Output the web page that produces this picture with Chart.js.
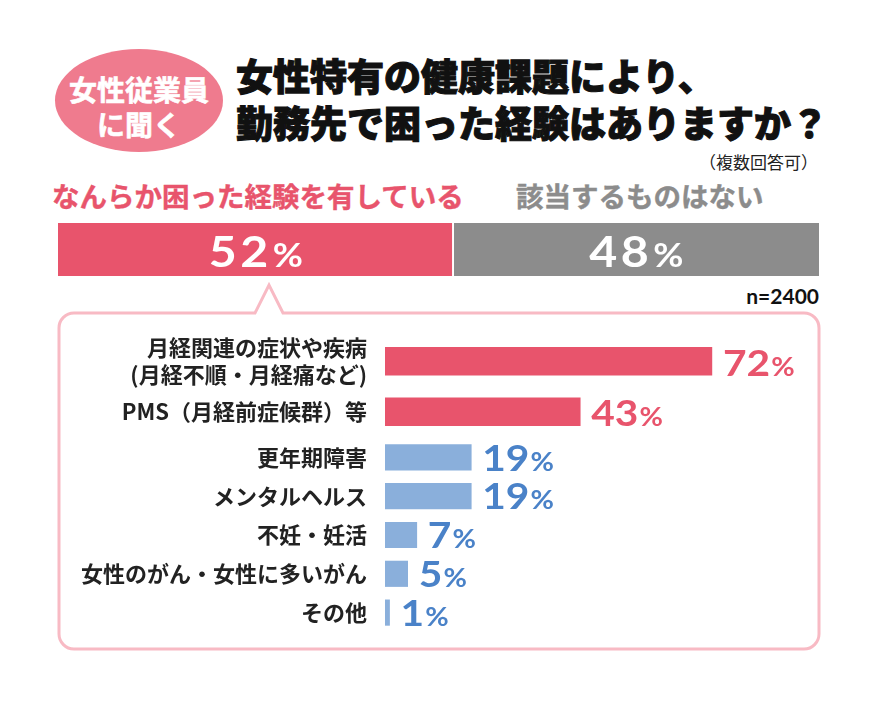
<!DOCTYPE html>
<html>
<head>
<meta charset="utf-8">
<script src="https://cdn.jsdelivr.net/npm/chart.js@4.4.1/dist/chart.umd.min.js"></script>
<style>
html,body{margin:0;padding:0;background:#fff;}
#wrap{position:relative;width:878px;height:702px;overflow:hidden;font-family:'Noto Sans CJK JP','Noto Sans CJK SC',sans-serif;}
.abs{position:absolute;white-space:nowrap;line-height:1;}
#badge{position:absolute;left:55px;top:49px;width:168px;height:103px;border-radius:50%;background:#EF7B8E;}
.bt{left:55px;width:168px;text-align:center;color:#fff;font-weight:700;font-size:28px;-webkit-text-stroke:0.6px #fff;}
.title{left:236px;font-size:37px;font-weight:900;color:#111;-webkit-text-stroke:1.1px #111;}
#note{right:60px;top:153px;font-size:17px;font-weight:400;color:#222;}
.head{font-size:27.5px;font-weight:700;top:182px;}
#headA{left:52px;color:#E8546C;-webkit-text-stroke:0.4px #E8546C;}
#headB{left:516px;color:#8C8C8C;-webkit-text-stroke:0.4px #8C8C8C;}
#nsize{right:59px;top:284.5px;font-family:Lato,'Noto Sans',sans-serif;font-weight:700;font-size:21px;color:#111;}
canvas{position:absolute;}
#box{position:absolute;left:0;top:0;}
</style>
</head>
<body>
<div id="wrap">
  <div id="badge"></div>
  <div class="abs bt" style="top:75px;">女性従業員</div>
  <div class="abs bt" style="top:109.5px;">に聞く</div>
  <div class="abs title" style="top:57px;">女性特有の健康課題により、</div>
  <div class="abs title" style="top:103.5px;">勤務先で困った経験はありますか？</div>
  <div class="abs" id="note">（複数回答可）</div>
  <div class="abs head" id="headA"></div>
  <div class="abs head" id="headB"></div>
  <div class="abs" id="nsize"></div>
  <svg id="box" width="878" height="702">
    <path d="M74 313 L255 313 L269 285 L283 313 L804 313 A15 15 0 0 1 819 328 L819 634 A15 15 0 0 1 804 649 L74 649 A15 15 0 0 1 59 634 L59 328 A15 15 0 0 1 74 313 Z" fill="#fff" stroke="#F8BAC4" stroke-width="3" stroke-linejoin="miter"/>
  </svg>
  <canvas id="overall" width="761" height="53" style="left:58px;top:223px;"></canvas>
  <canvas id="chartA" width="779" height="101" style="left:60px;top:336px;"></canvas>
  <canvas id="chartB" width="779" height="194" style="left:60px;top:438px;"></canvas>
</div>
<script>
// ---- data ----
const overallLabels = ['なんらか困った経験を有している', '該当するものはない'];
const overallValues = [52, 48];
const sampleSize = 'n=2400';
const categories = [
  ['月経関連の症状や疾病', '(月経不順・月経痛など)'],
  'PMS（月経前症候群）等',
  '更年期障害',
  'メンタルヘルス',
  '不妊・妊活',
  '女性のがん・女性に多いがん',
  'その他'
];
const values = [72, 43, 19, 19, 7, 5, 1];
const splitAt = 2; // first group (pink) vs second group (blue)

// ---- style ----
const PINK = '#E8546C', GRAY = '#8C8C8C', BLUE_BAR = '#8AAFDB', BLUE_TXT = '#4A82C8';
const CJK = "'Noto Sans CJK JP','Noto Sans CJK SC',sans-serif";
const NUM = "Lato,'Noto Sans',sans-serif";

document.getElementById('headA').textContent = overallLabels[0];
document.getElementById('headB').textContent = overallLabels[1];
document.getElementById('nsize').textContent = sampleSize;

function drawPct(ctx, text, x, baseline, numSize, pctSize, sx, align, color, spacing) {
  ctx.save();
  ctx.fillStyle = color;
  ctx.textBaseline = 'alphabetic';
  ctx.textAlign = 'left';
  ctx.letterSpacing = (spacing || 0) + 'px';
  ctx.font = `700 ${numSize}px ${NUM}`;
  const wn = ctx.measureText(text).width;
  ctx.letterSpacing = '0px';
  ctx.font = `700 ${pctSize}px ${NUM}`;
  const wp = ctx.measureText('%').width;
  const gap = 1;
  const total = (wn + gap + wp) * sx;
  const start = align === 'center' ? x - total / 2 : x;
  ctx.translate(start, baseline);
  ctx.scale(sx, 1);
  ctx.letterSpacing = (spacing || 0) + 'px';
  ctx.font = `700 ${numSize}px ${NUM}`;
  ctx.fillText(text, 0, 0);
  ctx.letterSpacing = '0px';
  ctx.font = `700 ${pctSize}px ${NUM}`;
  ctx.fillText('%', wn + gap, 0);
  ctx.restore();
}

// ---- overall stacked bar ----
const overallPlugin = {
  id: 'overallPlugin',
  afterDatasetsDraw(chart) {
    const ctx = chart.ctx;
    chart.data.datasets.forEach((ds, i) => {
      const bar = chart.getDatasetMeta(i).data[0];
      const cx = (bar.x + bar.base) / 2;
      drawPct(ctx, String(ds.data[0]), cx, bar.y + 17.5, 42, 32, 1.15, 'center', '#fff', 3);
    });
  }
};
new Chart(document.getElementById('overall'), {
  type: 'bar',
  data: {
    labels: [''],
    datasets: [
      { label: overallLabels[0], data: [overallValues[0]], backgroundColor: PINK, borderColor: '#fff', borderWidth: {left:0, top:0, bottom:0, right:2}, borderSkipped: false },
      { label: overallLabels[1], data: [overallValues[1]], backgroundColor: GRAY, borderWidth: 0 }
    ]
  },
  options: {
    indexAxis: 'y', responsive: false, animation: false,
    layout: { padding: 0 },
    datasets: { bar: { barPercentage: 1, categoryPercentage: 1 } },
    scales: {
      x: { stacked: true, min: 0, max: 100, display: false },
      y: { stacked: true, display: false }
    },
    plugins: { legend: { display: false }, tooltip: { enabled: false } }
  },
  plugins: [overallPlugin]
});

// ---- item bars ----
const valuePlugin = {
  id: 'valuePlugin',
  afterDatasetsDraw(chart, args, opts) {
    const ctx = chart.ctx;
    const meta = chart.getDatasetMeta(0);
    meta.data.forEach((bar, i) => {
      const v = chart.data.datasets[0].data[i];
      drawPct(ctx, String(v), bar.x + 11, bar.y + bar.height / 2 + 0.5, 37, 26, 1.1, 'left', opts.color, 0);
    });
  }
};

function makeChart(id, labels, data, barColor, txtColor, thickness) {
  return new Chart(document.getElementById(id), {
    type: 'bar',
    data: { labels, datasets: [{ data, backgroundColor: barColor, borderWidth: 0, barThickness: thickness }] },
    options: {
      indexAxis: 'y', responsive: false, animation: false,
      layout: { padding: 0 },
      scales: {
        x: { min: 0, max: 100, display: false },
        y: {
          grid: { display: false, drawTicks: false },
          border: { display: false },
          ticks: {
            autoSkip: false,
            padding: 18, color: '#222',
            font: { family: CJK, size: 22, weight: '700', lineHeight: 1.23 }
          },
          afterFit(s) { s.width = 325; s.paddingTop = 0; s.paddingBottom = 0; }
        }
      },
      plugins: { legend: { display: false }, tooltip: { enabled: false }, valuePlugin: { color: txtColor } }
    },
    plugins: [valuePlugin]
  });
}
makeChart('chartA', categories.slice(0, splitAt), values.slice(0, splitAt), PINK, PINK, 28);
makeChart('chartB', categories.slice(splitAt), values.slice(splitAt), BLUE_BAR, BLUE_TXT, 25.5);
</script>
</body>
</html>
